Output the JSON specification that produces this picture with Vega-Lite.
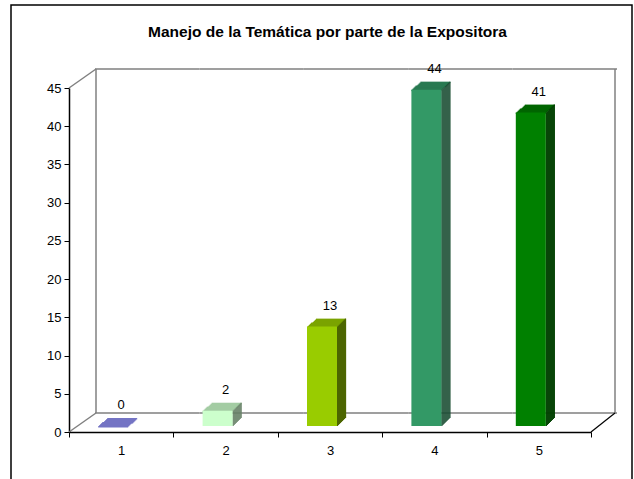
{
  "$schema": "https://vega.github.io/schema/vega-lite/v6.json",
  "width": 621,
  "height": 480,
  "autosize": {"type": "none"},
  "padding": {"left": 11, "top": 5, "right": 2, "bottom": 0},
  "background": "white",
  "config": {
    "view": {"stroke": "#000000", "strokeWidth": 1.5},
    "font": "Liberation Sans",
    "axis": {"labelFont": "Liberation Sans", "labelFontSize": 13, "labelColor": "#000000", "domainColor": "#000000", "tickColor": "#000000", "grid": false, "title": null}
  },
  "title": {"text": "Manejo de la Temática por parte de la Expositora", "font": "Liberation Sans", "fontSize": 15.5, "fontWeight": "bold", "color": "#000000", "anchor": "middle", "frame": "group", "offset": -35, "dx": 6},
  "data": {"values": [
    {"cat": "1", "v": 0},
    {"cat": "2", "v": 2},
    {"cat": "3", "v": 13},
    {"cat": "4", "v": 44},
    {"cat": "5", "v": 41}
  ]},
  "encoding": {
    "x": {"field": "cat", "type": "nominal", "scale": {"range": [58, 580], "paddingInner": 0, "paddingOuter": 0},
      "axis": {"orient": "bottom", "offset": -53, "labelAngle": 0, "tickBand": "extent", "tickSize": 5, "labelPadding": 7, "domainWidth": 1.5, "tickWidth": 1}},
    "y": {"field": "v", "type": "quantitative", "scale": {"domain": [0, 45], "range": [427, 83], "nice": false},
      "axis": {"offset": -58, "values": [0, 5, 10, 15, 20, 25, 30, 35, 40, 45], "tickSize": 5, "labelPadding": 3, "domainWidth": 1.5}}
  },
  "resolve": {"scale": {"color": "independent"}},
  "layer": [
    {
      "mark": {"type": "rect", "fillOpacity": 0, "stroke": "#808080", "strokeWidth": 1.5, "xOffset": 26, "x2Offset": 26, "yOffset": -19, "y2Offset": -19},
      "encoding": {
        "y": {"datum": 45, "type": "quantitative"},
        "y2": {"datum": 45}
      }
    },
    {
      "mark": {"type": "rect", "fillOpacity": 0, "stroke": "#808080", "strokeWidth": 1.5, "xOffset": 26, "x2Offset": 26, "yOffset": -19, "y2Offset": -19},
      "encoding": {
        "y": {"datum": 0, "type": "quantitative"},
        "y2": {"datum": 0}
      }
    },
    {
      "transform": [{"filter": "datum.cat == '1'"}],
      "mark": {"type": "rule", "stroke": "#808080", "strokeWidth": 1.5, "xOffset": 27, "yOffset": -19, "y2Offset": -19},
      "encoding": {
        "x": {"field": "cat", "type": "nominal", "bandPosition": 0},
        "y": {"datum": 0, "type": "quantitative"},
        "y2": {"datum": 45}
      }
    },
    {
      "transform": [{"filter": "datum.cat == '5'"}],
      "mark": {"type": "rule", "stroke": "#808080", "strokeWidth": 1.5, "xOffset": 24, "yOffset": -19, "y2Offset": -19},
      "encoding": {
        "x": {"field": "cat", "type": "nominal", "bandPosition": 1},
        "y": {"datum": 0, "type": "quantitative"},
        "y2": {"datum": 45}
      }
    },
    {
      "transform": [{"filter": "datum.cat == '1'"}],
      "mark": {"type": "rule", "stroke": "#808080", "strokeWidth": 1.5, "x2Offset": 27, "y2Offset": -19},
      "encoding": {
        "x": {"field": "cat", "type": "nominal", "bandPosition": 0},
        "x2": {"field": "cat", "bandPosition": 0},
        "y": {"datum": 45, "type": "quantitative"},
        "y2": {"datum": 45}
      }
    },
    {
      "transform": [{"filter": "datum.cat == '1'"}],
      "mark": {"type": "rule", "stroke": "#808080", "strokeWidth": 1.5, "x2Offset": 27, "y2Offset": -19},
      "encoding": {
        "x": {"field": "cat", "type": "nominal", "bandPosition": 0},
        "x2": {"field": "cat", "bandPosition": 0},
        "y": {"datum": 0, "type": "quantitative"},
        "y2": {"datum": 0}
      }
    },
    {
      "transform": [{"filter": "datum.cat == '5'"}],
      "mark": {"type": "rule", "stroke": "#000000", "strokeWidth": 1.2, "x2Offset": 24, "y2Offset": -19},
      "encoding": {
        "x": {"field": "cat", "type": "nominal", "bandPosition": 1},
        "x2": {"field": "cat", "bandPosition": 1},
        "y": {"datum": 0, "type": "quantitative"},
        "y2": {"datum": 0}
      }
    },
    {
      "encoding": {
        "y2": {"field": "v"},
        "color": {"field": "cat", "type": "nominal", "legend": null, "scale": {"domain": ["1", "2", "3", "4", "5"], "range": ["#7474C4", "#A3CCA3", "#7AA300", "#297A52", "#006600"]}}
      },
      "layer": [
        {"mark": {"type": "bar", "width": 30, "xOffset": -8, "yOffset": -6, "y2Offset": -4.5}},
        {"mark": {"type": "bar", "width": 30, "xOffset": -7, "yOffset": -7, "y2Offset": -5.5}},
        {"mark": {"type": "bar", "width": 30, "xOffset": -6, "yOffset": -8, "y2Offset": -6.5}},
        {"mark": {"type": "bar", "width": 30, "xOffset": -5, "yOffset": -9, "y2Offset": -7.5}},
        {"mark": {"type": "bar", "width": 30, "xOffset": -4, "yOffset": -10, "y2Offset": -8.5}},
        {"mark": {"type": "bar", "width": 30, "xOffset": -3, "yOffset": -10, "y2Offset": -8.5}},
        {"mark": {"type": "bar", "width": 30, "xOffset": -2, "yOffset": -11, "y2Offset": -9.5}},
        {"mark": {"type": "bar", "width": 30, "xOffset": -1, "yOffset": -12, "y2Offset": -10.5}},
        {"mark": {"type": "bar", "width": 30, "xOffset": 0, "yOffset": -13, "y2Offset": -11.5}},
        {"mark": {"type": "bar", "width": 30, "xOffset": 1, "yOffset": -14, "y2Offset": -12.5}}
      ]
    },
    {
      "encoding": {
        "y2": {"datum": 0},
        "color": {"field": "cat", "type": "nominal", "legend": null, "scale": {"domain": ["1", "2", "3", "4", "5"], "range": ["#333366", "#668066", "#4D6600", "#1A4D33", "#004000"]}}
      },
      "layer": [
        {"mark": {"type": "bar", "width": 1.3, "xOffset": 7.5, "yOffset": -6, "y2Offset": -6}},
        {"mark": {"type": "bar", "width": 1.3, "xOffset": 8.5, "yOffset": -7, "y2Offset": -7}},
        {"mark": {"type": "bar", "width": 1.3, "xOffset": 9.5, "yOffset": -8, "y2Offset": -8}},
        {"mark": {"type": "bar", "width": 1.3, "xOffset": 10.5, "yOffset": -9, "y2Offset": -9}},
        {"mark": {"type": "bar", "width": 1.3, "xOffset": 11.5, "yOffset": -10, "y2Offset": -10}},
        {"mark": {"type": "bar", "width": 1.3, "xOffset": 12.5, "yOffset": -11, "y2Offset": -11}},
        {"mark": {"type": "bar", "width": 1.3, "xOffset": 13.5, "yOffset": -12, "y2Offset": -12}},
        {"mark": {"type": "bar", "width": 1.3, "xOffset": 14.5, "yOffset": -13, "y2Offset": -13}},
        {"mark": {"type": "bar", "width": 1.3, "xOffset": 15.5, "yOffset": -14, "y2Offset": -14}}
      ]
    },
    {
      "mark": {"type": "bar", "width": 30, "xOffset": -8, "yOffset": -6, "y2Offset": -6},
      "encoding": {
        "y2": {"datum": 0},
        "color": {"field": "cat", "type": "nominal", "legend": null, "scale": {"domain": ["1", "2", "3", "4", "5"], "range": ["#6666CC", "#CCFFCC", "#99CC00", "#339966", "#008000"]}}
      }
    },
    {
      "mark": {"type": "text", "dy": -23, "baseline": "alphabetic", "font": "Liberation Sans", "fontSize": 13, "color": "#000000"},
      "encoding": {"text": {"field": "v", "type": "quantitative"}}
    }
  ]
}
